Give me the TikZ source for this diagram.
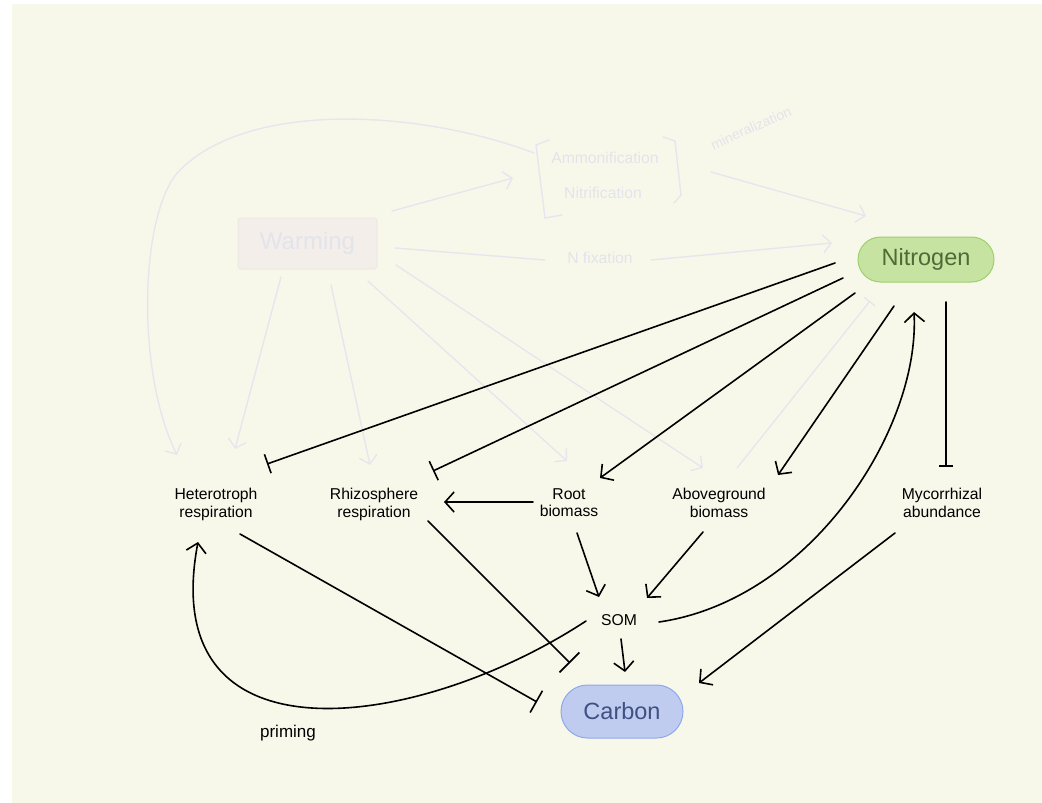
\documentclass[tikz,border=0pt]{standalone}
\usepackage{fontspec}
\setmainfont{Liberation Sans}
\usetikzlibrary{arrows.meta,calc}
\definecolor{cream}{HTML}{F8F8EA}
\definecolor{faint}{HTML}{E6E6EE}
\definecolor{fainttext}{HTML}{E3E3EC}
\definecolor{warmfill}{HTML}{F3EEEA}
\definecolor{warmdraw}{HTML}{EEE8E4}
\definecolor{nfill}{HTML}{C6E3A2}
\definecolor{ndraw}{HTML}{9ED06E}
\definecolor{ntext}{HTML}{4E6B36}
\definecolor{cfill}{HTML}{BFCCEF}
\definecolor{cdraw}{HTML}{8EA8EE}
\definecolor{ctext}{HTML}{3F5183}
\tikzset{
  lbl/.style={font=\fontsize{15.7}{17.5}\selectfont, align=center, inner sep=0pt, anchor=north},
  flbl/.style={font=\fontsize{15.7}{17.5}\selectfont, inner sep=0pt, text=fainttext},
  pill/.style={rounded corners=#1, line width=1pt, inner sep=0pt, font=\fontsize{23.5}{24}\selectfont},
  link/.style={line width=1.6pt, black, line cap=round},
  arr/.style={link, -{Straight Barb[length=9pt,width=20pt]}},
  inh/.style={link, -{Bar[width=#1]}},
  flink/.style={line width=1.4pt, faint, line cap=round},
  farr/.style={flink, -{Straight Barb[length=8pt,width=18pt]}},
}
\begin{document}
\begin{tikzpicture}[x=1pt,y=-1pt]
\useasboundingbox (0,0) rectangle (1042,803);
\fill[white] (0,0) rectangle (1042,803);
\fill[cream] (12,4) rectangle (1042,803);

% faint upper part
\node[pill=3pt, fill=warmfill, draw=warmdraw, minimum width=139pt, minimum height=51pt,
      text=fainttext, font=\fontsize{24}{24}\selectfont] (warm) at (307.5,243.5) {Warming};
\node[flbl] (amm) at (605,158) {Ammonification};
\node[flbl] (nitri) at (603,193) {Nitrification};
\node[flbl] (nfix) at (600,258) {N fixation};
\node[text=fainttext, rotate=24, inner sep=0pt, font=\fontsize{14}{14}\selectfont] (minz) at (751,128) {mineralization};
\draw[flink] (549,140) -- (536,145) -- (545,218) -- (562,215);
\draw[flink] (663,137) -- (675,141) -- (681,195) -- (674,203);

% main nodes
\node[pill=22.5pt, fill=nfill, draw=ndraw, minimum width=136pt, minimum height=45pt, text=ntext] (nit) at (926,259.5) {Nitrogen};
\node[pill=26.5pt, fill=cfill, draw=cdraw, minimum width=122pt, minimum height=53pt, text=ctext] (carb) at (622,711.5) {Carbon};
\node[lbl] (het) at (216,488) {Heterotroph\\respiration};
\node[lbl] (rhizo) at (374,488) {Rhizosphere\\respiration};
\node[lbl] (root) at (569,488) {Root\\biomass};
\node[lbl] (above) at (719,488) {Aboveground\\biomass};
\node[lbl] (myco) at (942,488) {Mycorrhizal\\abundance};
\node[font=\fontsize{15.7}{17.5}\selectfont, inner sep=0pt] (som) at (619,620) {SOM};
\node[font=\fontsize{17}{17}\selectfont, inner sep=0pt] (prim) at (288,733) {priming};

% faint connectors
\draw[farr] ($(amm)+(-71,-5)$) .. controls (420,110) and (250,100) .. (180,170)
            .. controls (140,210) and (135,370) .. ($(het.north)+(-39,-33)$);
\draw[farr] ($(warm)+(-26.5,33.5)$) -- ($(het.north)+(19,-39)$);
\draw[farr] ($(warm)+(23.5,41.5)$) -- ($(rhizo.north)+(-4,-23)$);
\draw[farr] ($(warm)+(60.5,37.5)$) -- ($(root.north)+(-2,-27)$);
\draw[farr] ($(warm)+(88.5,21.5)$) -- ($(above.north)+(-16,-20)$);
\draw[farr] ($(warm)+(84.5,-32.5)$) -- ($(amm)+(-92,20)$);
\draw[farr] ($(amm)+(106,14)$) -- ($(nit)+(-60,-43.5)$);
\draw[flink] ($(warm)+(87.5,4.5)$) -- ($(nfix)+(-55,2)$);
\draw[farr] ($(nfix)+(51,2)$) -- ($(nit)+(-94,-16.5)$);
\draw[flink, -{Bar[width=14pt]}] ($(above.north)+(18,-20)$) -- ($(nit)+(-56,41.5)$);

% black connectors
\draw[inh=20pt] ($(nit)+(-91,3.5)$) -- ($(het.north)+(51,-24)$);
\draw[inh=21pt] ($(nit)+(-83,18.5)$) -- ($(rhizo.north)+(59,-17)$);
\draw[arr] ($(nit)+(-71,33.5)$) -- ($(root.north)+(31,-10)$);
\draw[arr] ($(nit)+(-32,46.5)$) -- ($(above.north)+(59,-13)$);
\draw[inh=14pt] ($(nit)+(20,42.5)$) -- ($(myco.north)+(4,-21)$);
\draw[arr] ($(som)+(40,2)$) .. controls (810,600) and (920,430) .. ($(nit)+(-12,52.5)$);
\draw[arr] ($(root.north)+(-36,14)$) -- ($(rhizo.north)+(70,14)$);
\draw[arr] ($(root.north)+(8,45)$) -- ($(som)+(-20,-23)$);
\draw[arr] ($(above.north)+(-16,44)$) -- ($(som)+(28,-22)$);
\draw[arr] ($(som)+(2,19)$) -- ($(carb)+(3,-39.5)$);
\draw[arr] ($(myco.north)+(-47,45)$) -- ($(carb)+(77,-28.5)$);
\draw[inh=25pt] ($(het.north)+(24,46)$) -- ($(carb)+(-85,-9.5)$);
\draw[inh=28pt] ($(rhizo.north)+(54,33)$) -- ($(carb)+(-52,-48.5)$);
\draw[arr] ($(som)+(-33,1)$) .. controls (420,730) and (155,770) .. ($(het.north)+(-18,54)$);
\end{tikzpicture}
\end{document}
